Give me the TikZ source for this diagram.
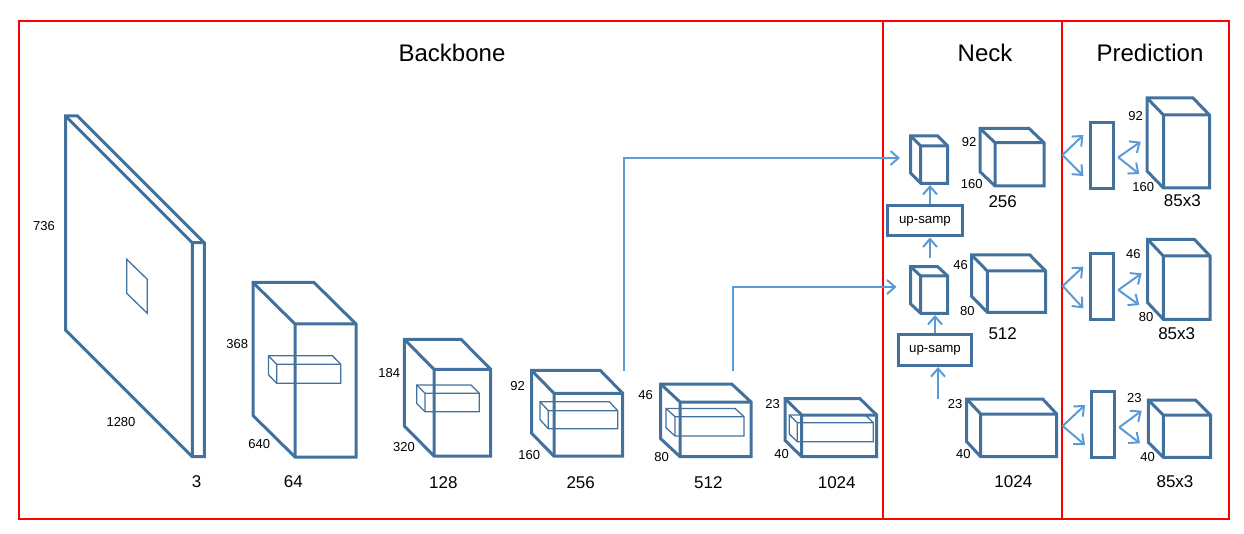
\documentclass[tikz,border=0pt]{standalone}
\usepackage{fontspec}
\setmainfont{Liberation Sans}
\usetikzlibrary{arrows.meta}
\definecolor{cubblue}{RGB}{67,113,158}
\definecolor{arrblue}{RGB}{91,155,213}
\definecolor{framered}{RGB}{255,0,0}
\newcommand\mycub[7]{%
  \draw[#1] (#2,#3+#5) -- (#2+#4,#3+#5) -- (#2+#4,#3) -- (#2+#4-#6,#3-#7) -- (#2-#6,#3-#7) -- (#2-#6,#3+#5-#7) -- cycle;
  \draw[#1] (#2,#3+#5) -- (#2,#3) -- (#2+#4,#3) (#2,#3) -- (#2-#6,#3-#7);
}
\tikzset{
  cubst/.style={draw=cubblue, line width=3pt, line join=miter},
  innst/.style={draw=cubblue, line width=1.3pt, line join=miter},
  arr/.style={draw=arrblue, line width=2pt, -{Straight Barb[length=8pt,width=14pt]}},
  frame/.style={draw=framered, line width=2pt},
  ttl/.style={inner sep=0pt, font=\fontsize{24}{28}\selectfont},
  biglab/.style={inner sep=0pt, font=\fontsize{17}{20}\selectfont},
  smlab/.style={inner sep=0pt, font=\fontsize{13}{15}\selectfont},
  upbox/.style={draw=cubblue, line width=3pt, inner sep=0pt, font=\fontsize{13.3}{15}\selectfont},
  thinrect/.style={draw=cubblue, line width=3pt, inner sep=0pt, minimum width=22.6pt}
}
\begin{document}
\begin{tikzpicture}[x=1pt,y=-1pt]
\useasboundingbox (0,0) rectangle (1244,534);
% frames
\draw[frame] (18.7,20.7) rectangle (1228.5,518.7);
\draw[frame] (883.3,20.7) -- (883.3,518.7);
\draw[frame] (1062,20.7) -- (1062,518.7);
% titles
\node[ttl] (tback) at (452,52.5) {Backbone};
\node[ttl] (tneck) at (985,52.5) {Neck};
\node[ttl] (tpred) at (1150,52.5) {Prediction};
% backbone cuboids
\mycub{cubst}{192.3}{242.7}{12}{214}{126.7}{126.7}
\draw[innst] (126.7,259.3) -- (147.3,279.3) -- (147.3,313.3) -- (126.7,293.3) -- cycle;
\mycub{cubst}{295}{324}{61}{133}{42}{41.5}
\mycub{innst}{276.7}{364.3}{64}{19}{8.3}{8.6}
\mycub{cubst}{434}{369.3}{56.7}{86.7}{29.7}{30}
\mycub{innst}{425}{393.3}{54.3}{18.4}{8.3}{8.3}
\mycub{cubst}{554}{393.3}{68.7}{62.9}{22.5}{23}
\mycub{innst}{548.3}{410.7}{69.4}{18}{8.3}{9}
\mycub{cubst}{680}{402}{71}{54.7}{19.3}{18}
\mycub{innst}{675}{416.7}{69}{19.3}{9}{8.3}
\mycub{cubst}{801.7}{415}{75}{41.7}{16.7}{16.3}
\mycub{innst}{797.3}{422.7}{76}{19}{8}{7.7}
% backbone labels
\node[smlab] (l736) at (44,226) {736};
\node[smlab] (l1280) at (121,422) {1280};
\node[smlab] (l368) at (237.3,344.3) {368};
\node[smlab] (l640) at (259.3,444) {640};
\node[smlab] (l184) at (389.3,373.3) {184};
\node[smlab] (l320) at (404,447.3) {320};
\node[smlab] (l92) at (517.7,386) {92};
\node[smlab] (l160) at (529.3,455) {160};
\node[smlab] (l46) at (645.7,395.3) {46};
\node[smlab] (l80) at (661.7,457.3) {80};
\node[smlab] (l23) at (772.7,404.3) {23};
\node[smlab] (l40) at (781.7,454.3) {40};
\node[biglab] (b3) at (196.7,481.7) {3};
\node[biglab] (b64) at (293.3,481.7) {64};
\node[biglab] (b128) at (443.3,482.3) {128};
\node[biglab] (b256) at (580.7,482.3) {256};
\node[biglab] (b512) at (708.3,482.3) {512};
\node[biglab] (b1024) at (836.7,482.3) {1024};
% neck cuboids
\mycub{cubst}{920.7}{146}{27}{37.3}{10}{10}
\mycub{cubst}{995}{142.7}{49}{43.3}{15}{14.3}
\mycub{cubst}{920.7}{276}{27}{37.3}{10}{9.3}
\mycub{cubst}{987.3}{271}{58.3}{41.3}{15.7}{16}
\mycub{cubst}{980.7}{414}{76}{42.7}{14}{15}
\node[upbox, minimum width=74.3pt, minimum height=30pt] (up1) at (924.9,221) {up-samp};
\node[upbox, minimum width=73.4pt, minimum height=30.7pt] (up2) at (935,350.3) {up-samp};
\node[smlab] (n92) at (969,141.7) {92};
\node[smlab] (n160) at (971.7,184) {160};
\node[smlab] (n46) at (960.7,265) {46};
\node[smlab] (n80) at (967.3,310.7) {80};
\node[smlab] (n23) at (955,404.3) {23};
\node[smlab] (n40) at (963.3,454.3) {40};
\node[biglab] (nb256) at (1002.7,201.7) {256};
\node[biglab] (nb512) at (1002.7,334) {512};
\node[biglab] (nb1024) at (1013.3,481.7) {1024};
% skip connections
\coordinate (s256) at (624,370.5);
\coordinate (ns1in) at (900,158);
\coordinate (s512) at (733,370.5);
\coordinate (ns2in) at (896.5,287);
\draw[arr] (s256) |- (ns1in);
\draw[arr] (s512) |- (ns2in);
% neck vertical arrows
\coordinate (ns1bot) at (930,185);
\coordinate (ns2top) at (930,258.5);
\coordinate (ns2bot) at (935,315);
\coordinate (n1024top) at (938,398.5);
\draw[arr] (up1.north -| ns1bot) -- (ns1bot);
\draw[arr] (ns2top) -- (ns2top |- up1.south);
\draw[arr] (up2.north -| ns2bot) -- (ns2bot);
\draw[arr] (n1024top) -- (n1024top |- up2.south);
% prediction
\node[thinrect, minimum height=66.7pt] (r1) at (1102,155.65) {};
\node[thinrect, minimum height=66.7pt] (r2) at (1102,286.65) {};
\node[thinrect, minimum height=66.7pt] (r3) at (1103.2,424.35) {};
\mycub{cubst}{1163.5}{115}{46}{73}{16.5}{17}
\mycub{cubst}{1163.3}{256}{46.7}{63.3}{15.7}{16.7}
\mycub{cubst}{1163.3}{415}{47.3}{42.3}{15}{15}
\coordinate (f1) at (1062.5,155);
\coordinate (f1a) at (1083.3,135);
\coordinate (f1b) at (1083.3,176);
\coordinate (g1) at (1118.3,157.3);
\coordinate (g1a) at (1140.7,141.7);
\coordinate (g1b) at (1139.3,174);
\coordinate (f2) at (1062.7,286);
\coordinate (f2a) at (1083.3,266.7);
\coordinate (f2b) at (1083.3,308.3);
\coordinate (g2) at (1118.3,290);
\coordinate (g2a) at (1141.7,273.3);
\coordinate (g2b) at (1139.3,305);
\coordinate (f3) at (1062.7,426);
\coordinate (f3a) at (1085,405);
\coordinate (f3b) at (1085,445);
\coordinate (g3) at (1119.3,427.3);
\coordinate (g3a) at (1141.7,410.7);
\coordinate (g3b) at (1140,443.3);
\foreach \p in {f1,g1,f2,g2,f3,g3}{
  \draw[arr] (\p) -- (\p a);
  \draw[arr] (\p) -- (\p b);
}
\node[smlab] (p92) at (1135.7,115.7) {92};
\node[smlab] (p160) at (1143.3,187.3) {160};
\node[smlab] (p46) at (1133.3,254) {46};
\node[smlab] (p80) at (1146,317.3) {80};
\node[smlab] (p23) at (1134.3,398.3) {23};
\node[smlab] (p40) at (1147.7,456.7) {40};
\node[biglab] (pb1) at (1182.3,201) {85x3};
\node[biglab] (pb2) at (1176.7,333.3) {85x3};
\node[biglab] (pb3) at (1175,481.7) {85x3};
\end{tikzpicture}
\end{document}
